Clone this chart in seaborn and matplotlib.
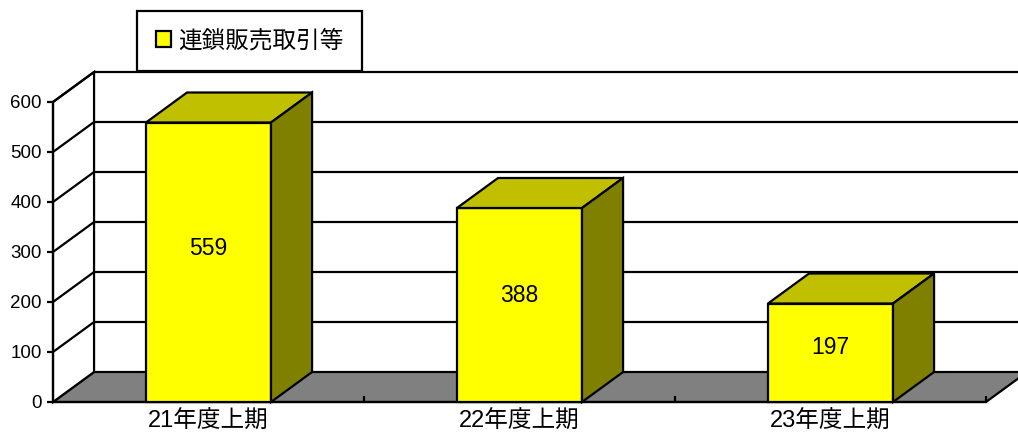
import matplotlib
matplotlib.use("Agg")
import matplotlib.pyplot as plt
import seaborn as sns
import pandas as pd

# Data
categories = ["21年度上期", "22年度上期", "23年度上期"]
values = [559, 388, 197]
series_name = "連鎖販売取引等"
y_ticks = [0, 100, 200, 300, 400, 500, 600]

# Latin digits from Liberation Sans, Japanese glyphs fall back to Noto CJK
plt.rcParams["font.family"] = ["Liberation Sans", "Noto Sans CJK JP", "DejaVu Sans"]

FRONT = "#FFFF00"
TOP = "#C0C000"
SIDE = "#808000"
FLOOR = "#808080"
LW = 1.6
DX, DY = 0.132, 60  # depth offset of the 3D box (category units, value units)

fig = plt.figure(figsize=(10.18, 4.32), dpi=100)
ax = fig.add_axes([0, 0, 1, 1])

df = pd.DataFrame({"period": categories, "count": values})
sns.barplot(data=df, x="period", y="count", color=FRONT, saturation=1,
            width=0.402, edgecolor="black", linewidth=LW, ax=ax, zorder=3)

x0, x1 = -0.5, len(categories) - 0.5
ytop = y_ticks[-1]

# floor
ax.fill([x0, x1, x1 + DX, x0 + DX], [0, 0, DY, DY], facecolor=FLOOR,
        edgecolor="black", lw=LW, zorder=1)
# side wall on the left
ax.fill([x0, x0 + DX, x0 + DX, x0], [0, DY, ytop + DY, ytop], facecolor="white",
        edgecolor="black", lw=LW, zorder=1)
# gridlines on side wall and back wall
for v in y_ticks[1:]:
    ax.plot([x0, x0 + DX], [v, v + DY], color="black", lw=LW, zorder=1.5,
            solid_capstyle="butt")
    ax.plot([x0 + DX, x1 + 1], [v + DY, v + DY], color="black", lw=LW,
            zorder=1.5, solid_capstyle="butt")

# 3D top and side faces of each bar, plus value labels
for bar, val in zip(ax.containers[0], values):
    bx, bw, bh = bar.get_x(), bar.get_width(), bar.get_height()
    ax.fill([bx, bx + bw, bx + bw + DX, bx + DX], [bh, bh, bh + DY, bh + DY],
            facecolor=TOP, edgecolor="black", lw=LW, zorder=3)
    ax.fill([bx + bw, bx + bw + DX, bx + bw + DX, bx + bw], [0, DY, bh + DY, bh],
            facecolor=SIDE, edgecolor="black", lw=LW, zorder=3)
    ax.text(bx + bw / 2, val * 0.55, f"{val}", ha="center", va="center",
            fontsize=16.5, color="black", zorder=4)

ax.set_xlim(x0 - 53 / 311, x0 + 965 / 311)
ax.set_ylim(-60, 804)

for s in ("top", "right"):
    ax.spines[s].set_visible(False)
ax.spines["left"].set_position(("data", x0))
ax.spines["left"].set_bounds(0, ytop)
ax.spines["bottom"].set_position(("data", 0))
ax.spines["bottom"].set_bounds(x0, x1)
for s in ("left", "bottom"):
    ax.spines[s].set_linewidth(LW)
    ax.spines[s].set_color("black")
    ax.spines[s].set_zorder(2)

ax.set_yticks(y_ticks)
ax.set_xticks(range(len(categories)))
ax.set_xticklabels(categories)
ax.set_xticks([i + 0.5 for i in range(len(categories))], minor=True)
ax.tick_params(axis="y", length=4, width=LW, pad=4, labelsize=13.5,
               direction="out", colors="black")
ax.tick_params(axis="x", which="major", length=0, pad=6.5, labelsize=17,
               colors="black")
ax.tick_params(axis="x", which="minor", length=4, width=LW, direction="in",
               colors="black")
ax.set_xlabel("")
ax.set_ylabel("")

leg = ax.legend(handles=[ax.containers[0][0]], labels=[series_name],
                loc="upper left", bbox_to_anchor=(137 / 1018, 1 - 11 / 432),
                borderaxespad=0, fancybox=False, edgecolor="black",
                framealpha=1, fontsize=17, borderpad=0.8,
                handlelength=0.64, handleheight=0.64, handletextpad=0.3)
leg.get_frame().set_linewidth(LW)
leg.set_zorder(10)

fig.savefig("out.png", dpi=100)
